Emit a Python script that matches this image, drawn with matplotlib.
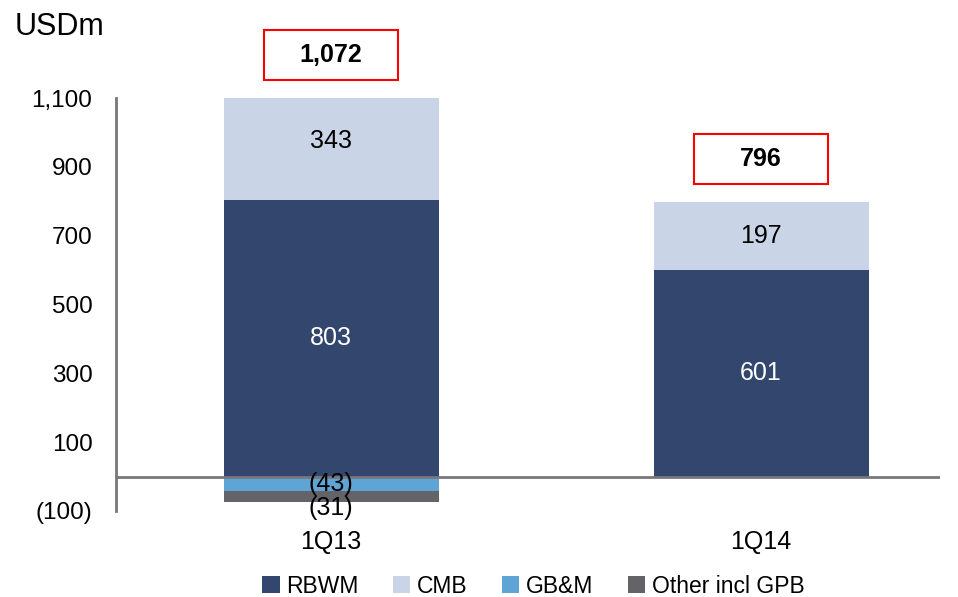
import matplotlib.pyplot as plt
from matplotlib.patches import Rectangle

plt.rcParams['font.family'] = ['Liberation Sans', 'DejaVu Sans']

quarters = ['1Q13', '1Q14']
rbwm = [803, 601]
cmb = [343, 197]
gbm = [-43, 0]
other = [-31, 0]
totals = [1072, 796]

c_rbwm = '#33466d'
c_cmb = '#c9d4e6'
c_gbm = '#5ea5d6'
c_other = '#646468'
c_axis = '#77777c'

fig = plt.figure(figsize=(9.58, 5.97), dpi=100)
ax = fig.add_axes([0.1211, 0.1441, 0.8601, 0.6917])

x = list(range(len(quarters)))
w = 0.5
ax.bar(x, rbwm, w, color=c_rbwm, label='RBWM')
ax.bar(x, cmb, w, bottom=rbwm, color=c_cmb, label='CMB')
ax.bar(x, gbm, w, color=c_gbm, label='GB&M')
ax.bar(x, other, w, bottom=gbm, color=c_other, label='Other incl GPB')

ax.set_ylim(-100, 1100)
ax.set_xlim(-0.5, 1.416)
ax.set_yticks(range(-100, 1101, 200))
ax.set_yticklabels(['({:,})'.format(-v) if v < 0 else '{:,}'.format(v)
                    for v in range(-100, 1101, 200)], fontsize=17.5)
ax.set_xticks(x)
ax.set_xticklabels(quarters, fontsize=18)
ax.tick_params(axis='both', length=0)
ax.tick_params(axis='y', pad=17)
ax.tick_params(axis='x', pad=14)

for s in ['top', 'right', 'bottom']:
    ax.spines[s].set_visible(False)
ax.spines['left'].set_color(c_axis)
ax.spines['left'].set_linewidth(2)
ax.axhline(0, color=c_axis, lw=2, zorder=3)

# segment labels
for i in x:
    ax.text(i, rbwm[i] / 2, str(rbwm[i]), ha='center', va='center', color='white', fontsize=18)
    ax.text(i, rbwm[i] + cmb[i] / 2, str(cmb[i]), ha='center', va='center', color='black', fontsize=18)
    if gbm[i] != 0:
        ax.text(i, gbm[i] / 2, '({})'.format(-gbm[i]), ha='center', va='center', fontsize=18, zorder=4)
    if other[i] != 0:
        ax.annotate('({})'.format(-other[i]), (i, gbm[i] + other[i] / 2), xytext=(0, -8),
                    textcoords='offset points', ha='center', va='center', fontsize=18, zorder=4)

# total boxes
top = ax.get_ylim()[1]
for i in x:
    t = min(rbwm[i] + cmb[i], top)
    yc = t + 125
    ax.add_patch(Rectangle((i - 0.155, yc - 73), 0.31, 146, fill=False, edgecolor='#ff0000',
                           lw=1.5, clip_on=False))
    ax.text(i, yc, '{:,}'.format(totals[i]), ha='center', va='center', fontsize=18,
            fontweight='bold', clip_on=False)

fig.text(0.015, 0.955, 'USDm', fontsize=22, va='center', ha='left')

fig.legend(loc='lower center', bbox_to_anchor=(0.557, -0.036), ncol=4, frameon=False,
           fontsize=16.5, handlelength=0.75, handleheight=0.75, handletextpad=0.3,
           columnspacing=1.5)

fig.savefig('out.png', dpi=100)
